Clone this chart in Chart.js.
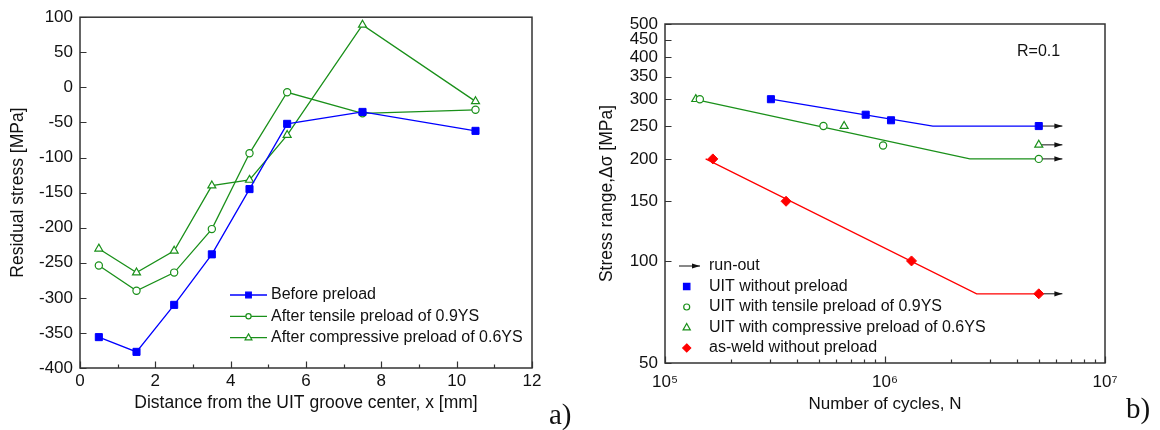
<!DOCTYPE html>
<html>
<head>
<meta charset="utf-8">
<script src="https://cdn.jsdelivr.net/npm/chart.js@4.4.1/dist/chart.umd.min.js"></script>
<style>
  html, body { margin: 0; padding: 0; background: #fff; }
  #wrap { position: relative; width: 1160px; height: 430px; overflow: hidden; background: #fff; }
  canvas { position: absolute; top: 0; }
  #c1 { left: 0; }
  #c2 { left: 580px; }
  .tag { position: absolute; font-family: "Liberation Serif", "DejaVu Serif", serif; font-size: 29px; line-height: 1; color: #111; }
</style>
</head>
<body>
<div id="wrap">
  <canvas id="c1" width="580" height="430"></canvas>
  <canvas id="c2" width="580" height="430"></canvas>
  <div class="tag" style="left:549px; top:400px;">a)</div>
  <div class="tag" style="left:1126px; top:394px;">b)</div>
</div>
<script>
// (a) residual stress vs distance from groove centre
const distX = [0.5, 1.5, 2.5, 3.5, 4.5, 5.5, 7.5, 10.5];
const beforePreload = [-356, -377, -310, -238, -145, -52, -35, -62];
const afterTensile = [-254, -290, -264, -202, -94, -7, -37, -32];
const afterCompressive = [-230, -264, -233, -140, -132, -68, 89, -20];

// (b) S-N data
const uitN = [3.03e5, 8.17e5, 1.065e6, 5.0e6];
const uitS = [300, 270, 260, 250];
const tensN = [1.44e5, 5.25e5, 9.8e5, 5.0e6];
const tensS = [300, 250, 219, 200];
const compN = [1.38e5, 6.52e5, 5.0e6];
const compS = [300, 250, 220];
const weldN = [1.65e5, 3.55e5, 1.32e6, 5.0e6];
const weldS = [200, 150, 100, 80];

// fitted curves with knee points
const uitFitN = [3.03e5, 1.65e6, 5.0e6];
const uitFitS = [300, 250, 250];
const tensFitN = [1.35e5, 2.43e6, 5.0e6];
const tensFitS = [300, 200, 200];
const weldFitN = [1.53e5, 2.61e6, 5.0e6];
const weldFitS = [200, 80, 80];

// run-out arrows
const runOutN = [5.0e6, 6.4e6];
const runOutS = [250, 220, 200, 80];

const stressTicks = [50, 100, 150, 200, 250, 300, 350, 400, 450, 500];
const cycleTicks = [1e5, 2e5, 3e5, 4e5, 5e5, 6e5, 7e5, 8e5, 9e5,
                    1e6, 2e6, 3e6, 4e6, 5e6, 6e6, 7e6, 8e6, 9e6, 1e7];
const cyclePowers = [1e5, 1e6, 1e7];
const cycleLabels = ['10\u2075', '10\u2076', '10\u2077'];

const BLUE = '#0000ff', GREEN = '#1a901a', RED = '#ff0000', INK = '#111';
const FONT = '"Liberation Sans", Arial, sans-serif';

Chart.defaults.font.family = FONT;
Chart.defaults.color = INK;
Chart.defaults.animation = false;

const pairs = (xs, ys) => xs.map((x, i) => ({ x: x, y: ys[i] }));

function mark(ctx, style, x, y, r) {
  ctx.beginPath();
  if (style === 'rect') ctx.rect(x - r, y - r, 2 * r, 2 * r);
  else if (style === 'circle') ctx.arc(x, y, r, 0, 2 * Math.PI);
  else if (style === 'triangle') {
    ctx.moveTo(x, y - r * 1.1);
    ctx.lineTo(x + r, y + r * 0.65);
    ctx.lineTo(x - r, y + r * 0.65);
    ctx.closePath();
  } else if (style === 'rectRot') {
    ctx.moveTo(x, y - r); ctx.lineTo(x + r, y);
    ctx.lineTo(x, y + r); ctx.lineTo(x - r, y);
    ctx.closePath();
  }
}

function arrowHead(ctx, x, y) {
  ctx.beginPath();
  ctx.moveTo(x, y);
  ctx.lineTo(x - 8, y - 2.6);
  ctx.lineTo(x - 8, y + 2.6);
  ctx.closePath();
  ctx.fill();
}

// box around plot + inward ticks (minor = no label)
const frameTicks = {
  id: 'frameTicks',
  afterDatasetsDraw(chart) {
    const { ctx, chartArea: a } = chart;
    const sx = chart.scales.x, sy = chart.scales.y;
    ctx.save();
    ctx.strokeStyle = '#333';
    ctx.lineWidth = 1.2;
    ctx.beginPath();
    sx.ticks.forEach(t => {
      const p = Math.round(sx.getPixelForValue(t.value)) + 0.5;
      const len = t.label === '' ? 3.5 : 6.5;
      ctx.moveTo(p, a.bottom); ctx.lineTo(p, a.bottom - len);
    });
    sy.ticks.forEach(t => {
      const p = Math.round(sy.getPixelForValue(t.value)) + 0.5;
      const len = t.label === '' ? 3.5 : 6.5;
      ctx.moveTo(a.left, p); ctx.lineTo(a.left + len, p);
    });
    ctx.stroke();
    ctx.lineWidth = 1.5;
    ctx.strokeRect(a.left, a.top, a.right - a.left, a.bottom - a.top);
    ctx.restore();
  }
};

const arrows = {
  id: 'arrows',
  afterDatasetsDraw(chart) {
    const ctx = chart.ctx;
    chart.data.datasets.forEach((d, i) => {
      if (!d.arrow) return;
      const pts = chart.getDatasetMeta(i).data;
      const last = pts[pts.length - 1];
      ctx.save();
      ctx.fillStyle = d.borderColor;
      arrowHead(ctx, last.x, last.y);
      ctx.restore();
    });
  }
};

const boxLegend = {
  id: 'boxLegend',
  afterDraw(chart, args, o) {
    const ctx = chart.ctx;
    const items = chart.data.datasets.filter(d => d.legend)
      .sort((p, q) => p.legendRank - q.legendRank);
    ctx.save();
    ctx.font = '16px ' + FONT;
    ctx.textBaseline = 'middle';
    items.forEach((d, i) => {
      const y = o.y + i * o.rowH;
      if (d.legend === 'line' || d.legend === 'arrow') {
        ctx.strokeStyle = d.borderColor;
        ctx.lineWidth = d.borderWidth;
        ctx.beginPath();
        ctx.moveTo(o.x, y); ctx.lineTo(o.x + o.lineLen, y);
        ctx.stroke();
      }
      if (d.legend === 'arrow') {
        ctx.fillStyle = d.borderColor;
        arrowHead(ctx, o.x + o.lineLen, y);
      } else {
        mark(ctx, d.pointStyle, o.markX, y, d.legendR);
        ctx.fillStyle = d.pointBackgroundColor;
        ctx.fill();
        ctx.strokeStyle = d.pointBorderColor;
        ctx.lineWidth = 1.2;
        ctx.stroke();
      }
      ctx.fillStyle = INK;
      ctx.fillText(d.label, o.textX, y);
    });
    if (o.note) {
      ctx.font = '16px ' + FONT;
      ctx.fillText(o.note.text, o.note.x, o.note.y);
    }
    ctx.restore();
  }
};

const hiddenGrid = { display: false, drawTicks: false };

new Chart(document.getElementById('c1'), {
  type: 'line',
  data: {
    datasets: [
      {
        label: 'Before preload', data: pairs(distX, beforePreload),
        borderColor: BLUE, borderWidth: 1.3, pointStyle: 'rect', pointRadius: 5,
        pointBackgroundColor: BLUE, pointBorderColor: BLUE, pointBorderWidth: 1,
        legend: 'line', legendRank: 0, legendR: 2.8
      },
      {
        label: 'After tensile preload of 0.9YS', data: pairs(distX, afterTensile),
        borderColor: GREEN, borderWidth: 1.3, pointStyle: 'circle', pointRadius: 3.6,
        pointBackgroundColor: '#fff', pointBorderColor: GREEN, pointBorderWidth: 1.2,
        legend: 'line', legendRank: 1, legendR: 2.6
      },
      {
        label: 'After compressive preload of 0.6YS', data: pairs(distX, afterCompressive),
        borderColor: GREEN, borderWidth: 1.3, pointStyle: 'triangle', pointRadius: 4.6,
        pointBackgroundColor: '#fff', pointBorderColor: GREEN, pointBorderWidth: 1.2,
        legend: 'line', legendRank: 2, legendR: 3.4
      }
    ]
  },
  options: {
    responsive: false,
    layout: { padding: { left: 0, top: 16, right: 48, bottom: 0 } },
    plugins: {
      legend: { display: false },
      tooltip: { enabled: false },
      boxLegend: { x: 230, y: 295, rowH: 21.3, lineLen: 37, markX: 248.5, textX: 271 }
    },
    scales: {
      x: {
        type: 'linear', min: 0, max: 12,
        afterFit: s => { s.height = 62; },
        grid: hiddenGrid, border: { display: false },
        ticks: {
          stepSize: 1, autoSkip: false, maxRotation: 0, padding: 3, font: { size: 17 },
          callback: v => (v % 2 === 0 ? String(v) : '')
        },
        title: {
          display: true, text: 'Distance from the UIT groove center, x [mm]',
          font: { size: 17.5 }, padding: { top: 0, bottom: 16.5 }
        }
      },
      y: {
        type: 'linear', min: -400, max: 100,
        afterFit: s => { s.width = 80; },
        grid: hiddenGrid, border: { display: false },
        ticks: { stepSize: 50, autoSkip: false, padding: 7, font: { size: 17 } },
        title: {
          display: true, text: 'Residual stress [MPa]',
          font: { size: 17.5 }, padding: { top: 8, bottom: 0 }
        }
      }
    }
  },
  plugins: [frameTicks, boxLegend]
});

const runOutSets = runOutS.map((s, i) => ({
  label: 'run-out', data: pairs(runOutN, [s, s]), showLine: true,
  borderColor: '#111', borderWidth: 1, pointRadius: 0, order: 2, arrow: true,
  legend: i === 0 ? 'arrow' : false, legendRank: 0
}));

const fitLine = (xs, ys, color) => ({
  label: 'fit', data: pairs(xs, ys), showLine: true,
  borderColor: color, borderWidth: 1.3, pointRadius: 0, order: 1
});

new Chart(document.getElementById('c2'), {
  type: 'scatter',
  data: {
    datasets: [
      ...runOutSets,
      fitLine(uitFitN, uitFitS, BLUE),
      fitLine(tensFitN, tensFitS, GREEN),
      fitLine(weldFitN, weldFitS, RED),
      {
        label: 'UIT without preload', data: pairs(uitN, uitS),
        pointStyle: 'rect', pointRadius: 5, pointBackgroundColor: BLUE,
        pointBorderColor: BLUE, pointBorderWidth: 1, order: 0,
        legend: 'mark', legendRank: 1, legendR: 3.2
      },
      {
        label: 'UIT with tensile preload of 0.9YS', data: pairs(tensN, tensS),
        pointStyle: 'circle', pointRadius: 3.6, pointBackgroundColor: '#fff',
        pointBorderColor: GREEN, pointBorderWidth: 1.2, order: 0,
        legend: 'mark', legendRank: 2, legendR: 3
      },
      {
        label: 'UIT with compressive preload of 0.6YS', data: pairs(compN, compS),
        pointStyle: 'triangle', pointRadius: 4.6, pointBackgroundColor: '#fff',
        pointBorderColor: GREEN, pointBorderWidth: 1.2, order: 0,
        legend: 'mark', legendRank: 3, legendR: 3.6
      },
      {
        label: 'as-weld without preload', data: pairs(weldN, weldS),
        pointStyle: 'rectRot', pointRadius: 5, pointBackgroundColor: RED,
        pointBorderColor: RED, pointBorderWidth: 1, order: 0,
        legend: 'mark', legendRank: 4, legendR: 4
      }
    ]
  },
  options: {
    responsive: false,
    layout: { padding: { left: 0, top: 24, right: 55, bottom: 0 } },
    plugins: {
      legend: { display: false },
      tooltip: { enabled: false },
      boxLegend: {
        x: 99, y: 266, rowH: 20.5, lineLen: 21, markX: 106.7, textX: 129,
        note: { text: 'R=0.1', x: 437, y: 52 }
      }
    },
    scales: {
      x: {
        type: 'logarithmic', min: 1e5, max: 1e7,
        afterBuildTicks: s => { s.ticks = cycleTicks.map(v => ({ value: v })); },
        afterFit: s => { s.height = 67; },
        grid: hiddenGrid, border: { display: false },
        ticks: {
          autoSkip: false, maxRotation: 0, padding: 9, font: { size: 17 },
          callback: v => {
            const i = cyclePowers.indexOf(v);
            return i < 0 ? '' : cycleLabels[i];
          }
        },
        title: {
          display: true, text: 'Number of cycles, N',
          font: { size: 17 }, padding: { top: 0, bottom: 15.8 }
        }
      },
      y: {
        type: 'logarithmic', min: 50, max: 500,
        afterBuildTicks: s => { s.ticks = stressTicks.map(v => ({ value: v })); },
        afterFit: s => { s.width = 85; },
        grid: hiddenGrid, border: { display: false },
        ticks: { autoSkip: false, padding: 7, font: { size: 17 }, callback: v => String(v) },
        title: {
          display: true, text: 'Stress range,\u0394\u03c3 [MPa]',
          font: { size: 17.5 }, padding: { top: 16.5, bottom: 0 }
        }
      }
    }
  },
  plugins: [frameTicks, arrows, boxLegend]
});
</script>
</body>
</html>
